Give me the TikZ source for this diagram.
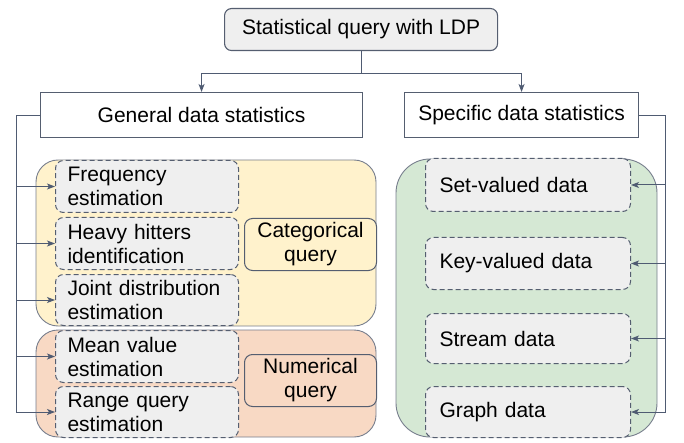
\documentclass[tikz,border=0pt]{standalone}
\usepackage{fontspec}
\setmainfont{Liberation Sans}
\usetikzlibrary{arrows.meta}
\definecolor{edgegray}{HTML}{555E70}
\definecolor{linkgray}{HTML}{4F5B72}
\definecolor{boxfill}{HTML}{EFEFEF}
\definecolor{catfill}{HTML}{FFF2CC}
\definecolor{numfill}{HTML}{F8D9C4}
\definecolor{specfill}{HTML}{D5E8D4}
\begin{document}
\begin{tikzpicture}[x=1pt,y=-1pt,
    every node/.style={font=\fontsize{21}{24}\selectfont, inner sep=0pt, anchor=north west},
    headbox/.style={draw=edgegray, line width=1.1pt, fill=white, align=center},
    group/.style={draw=edgegray!80, line width=0.9pt, rounded corners=22pt},
    itembox/.style={draw=edgegray, line width=1pt, fill=boxfill, dash pattern=on 5pt off 3pt,
        rounded corners=8pt, align=left, inner xsep=12pt, text width=159pt, minimum height=52pt},
    databox/.style={itembox, inner xsep=14pt, text width=177pt},
    kindbox/.style={draw=edgegray, line width=1pt, rounded corners=8pt, align=center,
        minimum width=132pt, minimum height=52pt},
    link/.style={draw=linkgray, line width=1pt},
    arrow/.style={link, -{Stealth[length=8pt,width=6pt,inset=2pt]}}]
  \useasboundingbox (0,0) rectangle (684,443);
  % groups
  \draw[group, fill=catfill] (36,160) rectangle (376,326);
  \draw[group, fill=numfill] (36,330) rectangle (376,437);
  \draw[group, fill=specfill, rounded corners=34pt] (396,159) rectangle (657,437);
  % headers
  \node[headbox, fill=boxfill, rounded corners=7pt, minimum width=273pt, minimum height=42pt] (top) at (224,8) {Statistical query with LDP};
  \node[headbox, minimum width=322pt, minimum height=45pt] (general) at (40,92) {General data statistics};
  \node[headbox, minimum width=234pt, minimum height=45pt] (specific) at (404,92) {Specific data statistics};
  % general items
  \node[itembox] (freq) at (55,160) {Frequency\\estimation};
  \node[itembox] (heavy) at (55,217) {Heavy hitters\\identification};
  \node[itembox, minimum height=51pt] (joint) at (55,274) {Joint distribution\\estimation};
  \node[itembox] (mean) at (55,330) {Mean value\\estimation};
  \node[itembox, minimum height=51pt] (range) at (55,386) {Range query\\estimation};
  \node[kindbox, fill=catfill] (cat) at (244,218) {Categorical\\query};
  \node[kindbox, fill=numfill] (num) at (244,354) {Numerical\\query};
  % specific items
  \node[databox, minimum height=53pt] (set) at (425,158) {Set-valued data};
  \node[databox] (key) at (425,237) {Key-valued data};
  \node[databox, minimum height=50pt] (stream) at (425,313) {Stream data};
  \node[databox, minimum height=51pt] (graph) at (425,386) {Graph data};
  % connectors
  \draw[arrow] (top.south) -- ++(0,22) -| (general.north);
  \draw[arrow] (top.south) -- ++(0,22) -| (specific.north);
  \coordinate (busL) at (16,0);
  \coordinate (busR) at (665,0);
  \draw[arrow] (general.west) -| (busL |- range.west) -- (range.west);
  \foreach \n in {freq,heavy,joint,mean}
    \draw[arrow] (busL |- \n.west) -- (\n.west);
  \draw[arrow] (specific.east) -| (busR |- graph.east) -- (graph.east);
  \foreach \n in {set,key,stream}
    \draw[arrow] (busR |- \n.east) -- (\n.east);
\end{tikzpicture}
\end{document}
